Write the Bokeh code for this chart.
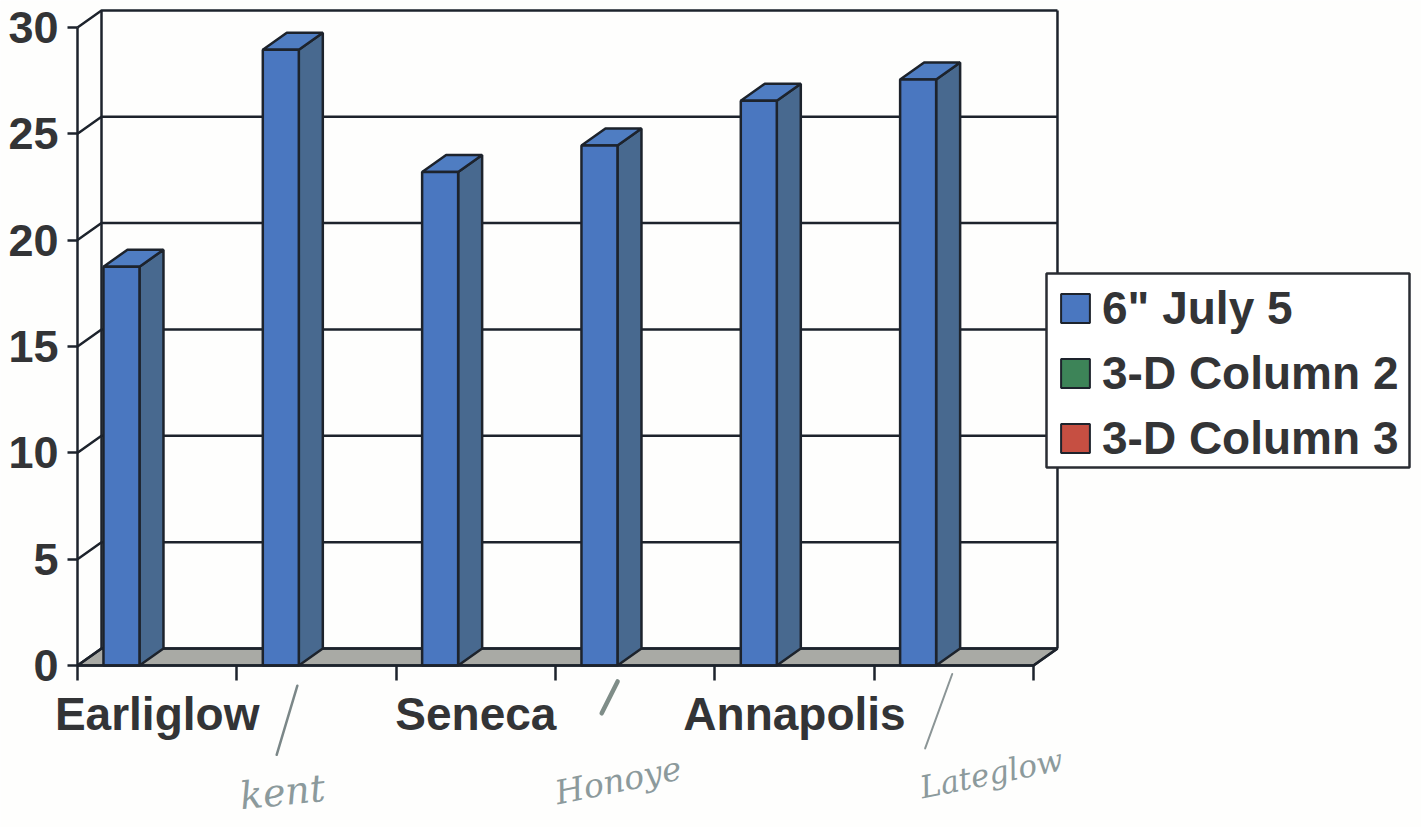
from bokeh.embed import file_html
from bokeh.core.properties import value
from bokeh.models import FixedTicker, Legend, LegendItem, LinearAxis, Range1d
from bokeh.plotting import figure
from bokeh.resources import INLINE

# Cultivars in plotting order, with their yields for the first series
cultivars = ["Earliglow", "Kent", "Seneca", "Honoye", "Annapolis", "Lateglow"]
yields_july5 = [18.75, 28.95, 23.2, 24.45, 26.55, 27.55]
value_ticks = [0, 5, 10, 15, 20, 25, 30]
labelled_cultivars = {0.5: "Earliglow", 2.5: "Seneca", 4.5: "Annapolis"}
series_names = ['6" July 5', "3-D Column 2", "3-D Column 3"]
series_colors = ["#4a77c0", "#3d8458", "#c64f42"]

# Pixel scale of the plot box
W, H = 1421, 827
LEFT, ZERO = 77, 665
UNIT_X, UNIT_Y = 159.33, 21.27

# Oblique offset of the back wall, and bar placement within a category
DX, DY = 24 / UNIT_X, 17 / UNIT_Y
BAR_W, BAR_OFFSET = 0.226, 0.276

INK = "#1d232c"
TEXT = "#333436"
PENCIL = "#8c9a9c"
FONT = "Liberation Sans"
LINE = 2.5


def px_x(px):
    return (px - LEFT) / UNIT_X


def px_y(px):
    return (ZERO - px) / UNIT_Y


p = figure(
    width=W, height=H, output_backend="svg", toolbar_location=None,
    x_range=Range1d(px_x(0), px_x(W)),
    y_range=Range1d(px_y(H), px_y(0)),
    x_axis_type=None, y_axis_type=None,
    min_border_left=0, min_border_right=0, min_border_top=0, min_border_bottom=0,
    outline_line_color=None, background_fill_color="#fefefd", border_fill_color="#fefefd",
)

# Value axis on the front-left edge
y_axis = LinearAxis(
    ticker=FixedTicker(ticks=value_ticks), bounds=(0, 30), fixed_location=0,
    major_tick_out=10, major_tick_in=0, minor_tick_line_color=None,
    axis_line_color=INK, axis_line_width=LINE, major_tick_line_color=INK, major_tick_line_width=LINE,
    major_label_standoff=9, major_label_text_font=FONT, major_label_text_font_style="bold",
    major_label_text_font_size="45px", major_label_text_color=TEXT,
)
p.add_layout(y_axis, "left")

# Category axis: marks on every boundary, names on alternate categories
x_axis = LinearAxis(
    ticker=FixedTicker(ticks=list(labelled_cultivars), minor_ticks=list(range(7))),
    bounds=(0, 6), fixed_location=0, major_label_overrides=labelled_cultivars,
    major_tick_line_color=None, major_tick_out=0, major_tick_in=0,
    minor_tick_out=15, minor_tick_in=0, minor_tick_line_color=INK, minor_tick_line_width=LINE,
    axis_line_color=INK, axis_line_width=LINE,
    major_label_standoff=7, major_label_text_font=FONT, major_label_text_font_style="bold",
    major_label_text_font_size="46px", major_label_text_color=TEXT,
)
p.add_layout(x_axis, "below")

# Floor of the chart box
p.patch([0, 6, 6 + DX, DX], [0, 0, DY, DY], fill_color="#a9aaa5", line_color=INK, line_width=LINE)

# Back wall gridlines with their oblique run to the value axis
p.multi_line(
    [[0, DX, 6 + DX] for _ in value_ticks],
    [[t, t + DY, t + DY] for t in value_ticks],
    line_color=INK, line_width=LINE,
)
p.multi_line(
    [[DX, DX], [6 + DX, 6 + DX], [6, 6 + DX]],
    [[DY, 30 + DY], [DY, 30 + DY], [0, DY]],
    line_color=INK, line_width=LINE,
)

# Columns: side and top faces derive from each value, the front is a vbar
lefts = [i + BAR_OFFSET - BAR_W / 2 for i in range(len(cultivars))]
rights = [x + BAR_W for x in lefts]
p.patches(
    [[r, r + DX, r + DX, r] for r in rights],
    [[0, DY, v + DY, v] for v in yields_july5],
    fill_color="#48698f", line_color=INK, line_width=LINE,
)
p.patches(
    [[l, r, r + DX, l + DX] for l, r in zip(lefts, rights)],
    [[v, v, v + DY, v + DY] for v in yields_july5],
    fill_color="#4f7dc2", line_color=INK, line_width=LINE,
)
p.vbar(
    x=[i + BAR_OFFSET for i in range(len(cultivars))], top=yields_july5, bottom=0, width=BAR_W,
    fill_color=series_colors[0], line_color=INK, line_width=LINE,
)

# Legend panel, then the legend itself; the second and third series hold no values
p.quad(
    left=[px_x(1046)], right=[px_x(1409)], top=[px_y(273)], bottom=[px_y(467)],
    fill_color="#ffffff", line_color="#2a2d33", line_width=LINE,
)
swatches = [
    p.vbar(x=[float("nan")], top=[float("nan")], width=1, fill_color=c, line_color=INK, line_width=2)
    for c in series_colors
]
legend = Legend(
    items=[LegendItem(label=n, renderers=[r]) for n, r in zip(series_names, swatches)],
    location=(1057, 362),
    orientation="vertical",
    glyph_width=36, glyph_height=36, label_height=46, label_standoff=9,
    spacing=11, padding=0, margin=0,
    label_text_font=FONT, label_text_font_style="bold", label_text_font_size="46px",
    label_text_color=TEXT, border_line_color=None, background_fill_alpha=0,
)
p.add_layout(legend, "center")

# Pencil notes naming the unlabelled cultivars
note_x = [1.02, 3.0, 5.29]
note_y = [-6.15, -6.0, -5.75]
notes = [cultivars[1].lower(), cultivars[3], cultivars[5]]
p.text(
    x=note_x, y=note_y, text=notes, angle=[0.1, 0.2, 0.2],
    text_font=value("DejaVu Serif"), text_font_style="italic",
    text_font_size=["38px", "33px", "31px"], text_color=PENCIL, text_baseline="alphabetic",
)
p.multi_line(
    [[1.38, 1.25], [3.39, 3.29], [5.49, 5.32]],
    [[-0.95, -4.2], [-0.75, -2.25], [-0.4, -3.9]],
    line_color=["#7b8788", "#7f8d88", "#8b9596"], line_width=[2.5, 4.5, 2],
    line_cap="round",
)

open("out.html", "w").write(file_html(p, INLINE))
